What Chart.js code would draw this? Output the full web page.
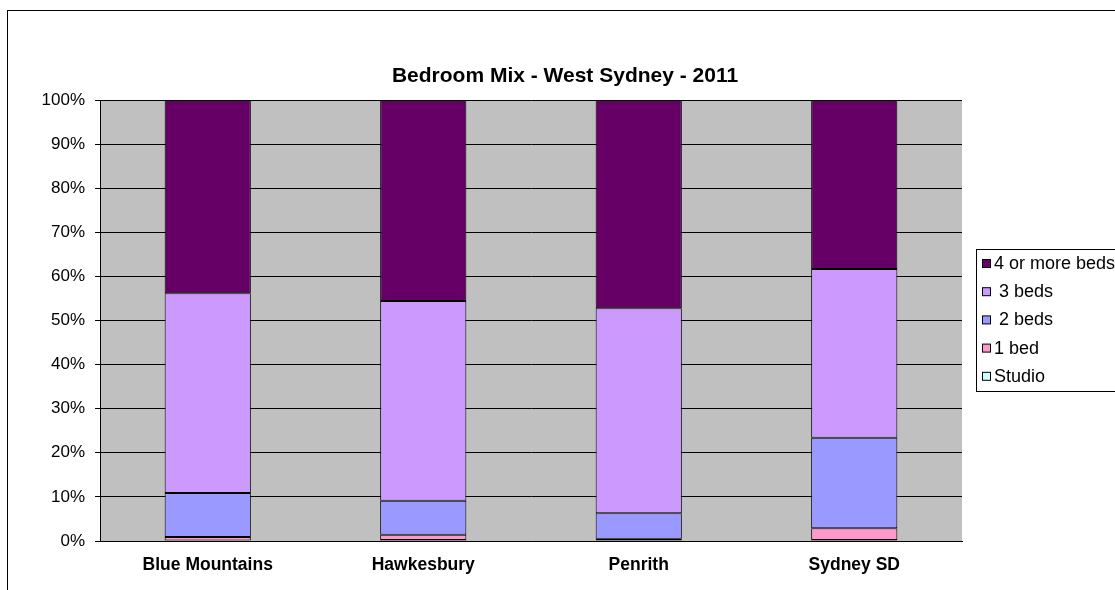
<!DOCTYPE html>
<html>
<head>
<meta charset="utf-8">
<title>Bedroom Mix - West Sydney - 2011</title>
<script src="https://cdn.jsdelivr.net/npm/chart.js@4.4.0/dist/chart.umd.min.js"></script>
<style>
  html, body { margin: 0; padding: 0; background: #fff; overflow: hidden; }
  #wrap { width: 1115px; height: 590px; }
</style>
</head>
<body>
<div id="wrap"><canvas id="chart" width="1115" height="590"></canvas></div>
<script>
// share of dwellings by bedroom count (%)
const categories = ["Blue Mountains", "Hawkesbury", "Penrith", "Sydney SD"];
const studio    = [0.1, 0.2, 0.1, 0.2];
const oneBed    = [0.8, 1.2, 0.4, 2.7];
const twoBeds   = [10.0, 7.7, 5.8, 20.5];
const threeBeds = [45.3, 45.3, 46.5, 38.3];
const fourPlus  = [43.8, 45.6, 47.2, 38.3];
const yTicks = [0, 10, 20, 30, 40, 50, 60, 70, 80, 90, 100];

const chartTitle   = "Bedroom Mix - West Sydney - 2011";
const seriesNames  = ["Studio", "1 bed", " 2 beds", " 3 beds", "4 or more beds"];
const seriesValues = [studio, oneBed, twoBeds, threeBeds, fourPlus];
const seriesColors = ["#CCFFFF", "#FF99CC", "#9999FF", "#CC99FF", "#660066"];

const FONT = "Arial, 'Liberation Sans', sans-serif";

// grey plot background, outer frame, title and boxed legend
const decor = {
  id: "decor",
  beforeDraw(chart) {
    const { ctx, chartArea: a } = chart;
    ctx.save();
    ctx.fillStyle = "#C0C0C0";
    ctx.fillRect(a.left, a.top, a.right - a.left, a.bottom - a.top);
    ctx.restore();
  },
  afterDraw(chart) {
    const ctx = chart.ctx;
    ctx.save();
    ctx.strokeStyle = "#000";
    ctx.lineWidth = 1;
    ctx.strokeRect(7.5, 10.5, 1300, 800);

    ctx.fillStyle = "#000";
    ctx.font = "bold 21px " + FONT;
    ctx.textAlign = "center";
    ctx.textBaseline = "middle";
    ctx.fillText(chartTitle, 565, 76);

    // legend box, top item first
    ctx.fillStyle = "#fff";
    ctx.fillRect(976.5, 249.5, 200, 142);
    ctx.strokeRect(976.5, 249.5, 200, 142);
    ctx.font = "18px " + FONT;
    ctx.textAlign = "left";
    const ds = chart.data.datasets;
    for (let i = ds.length - 1, row = 0; i >= 0; i--, row++) {
      const y = 263 + row * 28.2;
      ctx.fillStyle = ds[i].backgroundColor;
      ctx.fillRect(982.5, y - 3.5, 8, 8);
      ctx.strokeStyle = "#000";
      ctx.strokeRect(982.5, y - 3.5, 8, 8);
      ctx.fillStyle = "#000";
      ctx.fillText(ds[i].label, 994, y + 1);
    }
    ctx.restore();
  }
};

new Chart(document.getElementById("chart"), {
  type: "bar",
  data: {
    labels: categories,
    datasets: seriesNames.map((name, i) => ({
      label: name,
      data: seriesValues[i],
      backgroundColor: seriesColors[i],
      borderColor: "#000",
      borderWidth: 1,
      borderSkipped: false,
      categoryPercentage: 1,
      barPercentage: 0.4
    }))
  },
  options: {
    responsive: false,
    animation: false,
    layout: { padding: { top: 100, right: 153, left: 0, bottom: 0 } },
    plugins: {
      legend: { display: false },
      tooltip: { enabled: false },
      title: { display: false }
    },
    scales: {
      x: {
        stacked: true,
        grid: { display: false, drawTicks: false },
        border: { display: true, color: "#000", width: 1 },
        ticks: { color: "#000", font: { family: FONT, size: 17.5, weight: "bold" }, padding: 14 },
        afterFit(scale) { scale.height = 49; }
      },
      y: {
        stacked: true,
        min: 0,
        max: 100,
        afterBuildTicks(scale) { scale.ticks = yTicks.map(v => ({ value: v })); },
        grid: { color: "#000", lineWidth: 1, tickLength: 5 },
        border: { display: true, color: "#000", width: 1 },
        ticks: {
          color: "#000",
          font: { family: FONT, size: 17 },
          padding: 10,
          callback: v => v + "%"
        },
        afterFit(scale) { scale.width = 100; }
      }
    }
  },
  plugins: [decor]
});
</script>
</body>
</html>
